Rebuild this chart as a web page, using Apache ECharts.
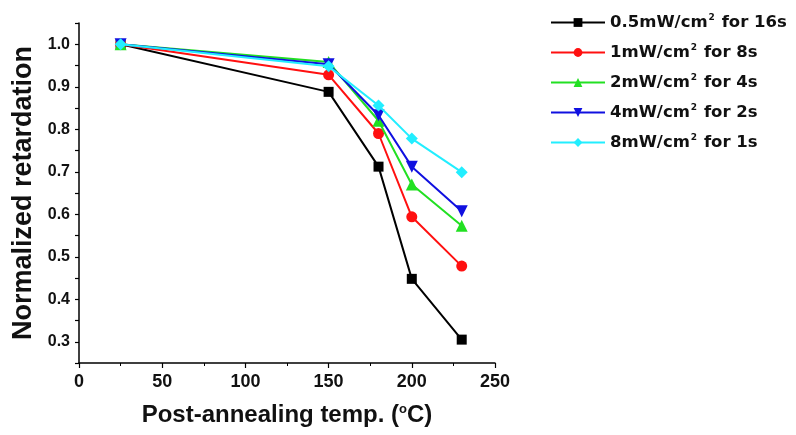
<!DOCTYPE html>
<html><head><meta charset="utf-8">
<script src="https://cdn.jsdelivr.net/npm/echarts@6/dist/echarts.min.js"></script>
<style>html,body{margin:0;padding:0;background:#fff}#c{width:796px;height:435px}</style>
</head><body><div id="c"></div>
<script>
const temps = [25, 150, 180, 200, 230];
const s05 = [1.0, 0.888, 0.712, 0.448, 0.305];
const s1 = [1.0, 0.928, 0.790, 0.594, 0.478];
const s2 = [1.0, 0.958, 0.820, 0.670, 0.573];
const s4 = [1.0, 0.953, 0.833, 0.712, 0.607];
const s8 = [1.0, 0.948, 0.856, 0.778, 0.699];
const names = ['0.5mW/cm2 for 16s', '1mW/cm2 for 8s', '2mW/cm2 for 4s', '4mW/cm2 for 2s', '8mW/cm2 for 1s'];
const yLabels = [0.3, 0.4, 0.5, 0.6, 0.7, 0.8, 0.9, 1.0];
const colors = ['#000000', '#ff1010', '#22e022', '#1010e0', '#22eeff'];
const symbols = ['rect', 'circle', 'triangle', 'path://M0,0 L10,0 L5,10 Z', 'diamond'];
const sizes = [10, 11, 12, 12, 12];
const allData = [s05, s1, s2, s4, s8];
const font = 'Arial, "Liberation Sans", sans-serif';
const wide = '"DejaVu Sans", Verdana, sans-serif';

const chart = echarts.init(document.getElementById('c'));
chart.setOption({
  animation: false,
  backgroundColor: '#fff',
  grid: {left: 79, right: 301, top: 23, bottom: 72},
  legend: {
    orient: 'vertical', left: 545, top: 8, itemWidth: 54, itemHeight: 11, itemGap: 11,
    data: names,
    formatter: n => n.replace('cm2', 'cm{sup|2}'),
    textStyle: {
      fontFamily: wide, fontSize: 16.5, fontWeight: 'bold', color: '#111', lineHeight: 19,
      rich: {sup: {fontSize: 9, fontWeight: 'bold', verticalAlign: 'top', padding: [0, 1, 9, 1], fontFamily: wide}}
    }
  },
  xAxis: {
    type: 'value', min: 0, max: 250, interval: 50,
    name: 'Post-annealing temp. ({sup|o}C)', nameLocation: 'middle', nameGap: 40,
    nameTextStyle: {fontFamily: font, fontSize: 24, fontWeight: 'bold', color: '#111',
      rich: {sup: {fontSize: 13, fontWeight: 'bold', verticalAlign: 'top', padding: [0,0,12,0], fontFamily: font}}},
    axisLine: {show: true, lineStyle: {color: '#000', width: 1.5}},
    axisTick: {show: true, length: 5, lineStyle: {color: '#000', width: 1.2}},
    minorTick: {show: true, splitNumber: 2, length: 3, lineStyle: {color: '#000', width: 1}},
    axisLabel: {fontFamily: font, fontSize: 18, fontWeight: 'bold', color: '#111', margin: 10},
    splitLine: {show: false}
  },
  yAxis: {
    type: 'value', min: 0.25, max: 1.05, interval: 0.05,
    name: 'Normalized retardation', nameLocation: 'middle', nameGap: 41,
    nameTextStyle: {fontFamily: font, fontSize: 27, fontWeight: 'bold', color: '#111'},
    axisLine: {show: true, lineStyle: {color: '#000', width: 1.5}},
    axisTick: {show: true, length: 4, lineStyle: {color: '#000', width: 1.2}},
    axisLabel: {fontFamily: font, fontSize: 16, fontWeight: 'bold', color: '#111', margin: 9,
      formatter: v => yLabels.some(l => Math.abs(l - v) < 1e-6) ? v.toFixed(1) : ''},
    splitLine: {show: false}
  },
  series: names.map((n, i) => ({
    name: n, type: 'line',
    data: temps.map((t, j) => [t, allData[i][j]]),
    symbol: symbols[i], symbolSize: sizes[i],
    lineStyle: {color: colors[i], width: 2},
    itemStyle: {color: colors[i]},
    z: 2 + i
  }))
});
</script></body></html>
